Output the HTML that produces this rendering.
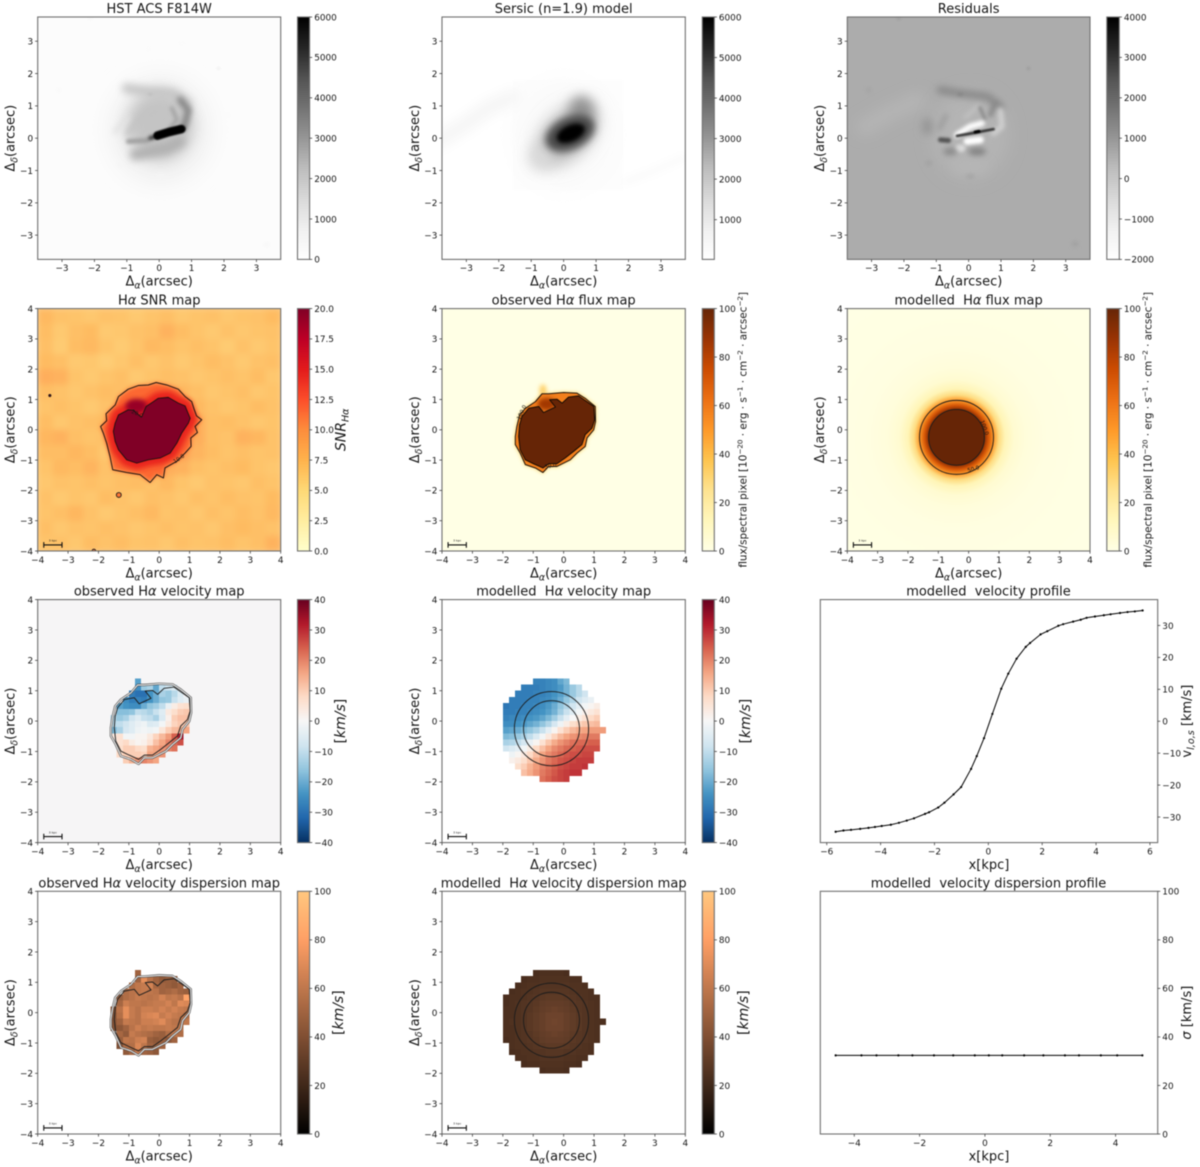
<!DOCTYPE html>
<html lang="en">
<head>
<meta charset="utf-8">
<title>Galaxy kinematics maps</title>
<style>
html,body{margin:0;padding:0;background:#fff;}
#figure{display:block;width:1200px;height:1167px;filter:blur(0.5px);}
text{font-family:"DejaVu Sans","Liberation Sans",sans-serif;fill:#161616;white-space:pre;}
</style>
</head>
<body>
<svg id="figure" xmlns="http://www.w3.org/2000/svg" width="1200" height="1167" viewBox="0 0 1200 1167">
<defs id="defs"></defs>
</svg>
<script>
/* ---------- tick labels ---------- */
const ticksHst = [-3,-2,-1,0,1,2,3];
const ticksMap = [-4,-3,-2,-1,0,1,2,3,4];
const ticksGrey = [0,1000,2000,3000,4000,5000,6000];
const ticksSersic = [1000,2000,3000,4000,5000,6000];
const ticksResidual = [-2000,-1000,0,1000,2000,3000,4000];
const ticksSnr = [0,2.5,5,7.5,10,12.5,15,17.5,20];
const ticksFlux = [0,20,40,60,80,100];
const ticksVelocity = [-40,-30,-20,-10,0,10,20,30,40];
const ticksProfileVX = [-6,-4,-2,0,2,4,6];
const ticksProfileVY = [-30,-20,-10,0,10,20,30];
const ticksProfileSX = [-4,-2,0,2,4];
const ticksProfileSY = [0,20,40,60,80,100];

/* ---------- colormap stops ---------- */
const cmapGreys = ['#ffffff','#f0f0f0','#d9d9d9','#bdbdbd','#969696','#737373','#525252','#252525','#000000'];
const cmapYlOrRd = ['#ffffcc','#ffeda0','#fed976','#feb24c','#fd8d3c','#fc4e2a','#e31a1c','#bd0026','#800026'];
const cmapYlOrBr = ['#ffffe5','#fff7bc','#fee391','#fec44f','#fe9929','#ec7014','#cc4c02','#993404','#662506'];
const cmapRdBu = ['#053061','#2166ac','#4393c3','#92c5de','#d1e5f0','#f7f7f7','#fddbc7','#f4a582','#d6604d','#b2182b','#67001f'];
const cmapCopper = ['#000000','#40281a','#804f33','#bf774c','#ff9f65','#ffc77f'];

/* ---------- HST image features, data coords: x,y,rx,ry,rot,flux,blur ---------- */
const hstBlobs = [
 [0.03,0.26,1.5,1.6,0,800,12],[0.03,0.4,1.02,1.08,0,2050,7],
 [-1.2,-0.82,0.1,0.08,0,500,2],[0.03,-1.18,0.14,0.06,0,500,2],
 [1.83,2.16,0.05,0.05,0,750,1],[-3.1,1.49,0.08,0.08,0,280,1.5],[3.32,-3.29,0.1,0.08,0,340,1.5],
 [-2.13,3.7,0.08,0.05,0,330,1.2],[2.14,0.72,0.07,0.07,0,230,1.5],[0.7,2.93,0.12,0.1,0,220,2],
 [-0.33,2.78,0.1,0.12,0,220,2],[1,2.1,0.07,0.05,0,220,1.5],[-0.28,1.36,0.08,0.04,0,2200,1]
];
const hstStreaks = [
 {pts:[[-1,1.54],[-0.28,1.42],[0.44,1.36],[0.85,1.08]],w:10,flux:2000,blur:4},
 {pts:[[-0.95,0.15],[-0.59,0.62],[-0.07,0.87]],w:6,flux:2100,blur:3.4},
 {pts:[[-1.36,0.2],[-1,0.62]],w:5,flux:1200,blur:2.8},
 {pts:[[0.65,1.18],[0.9,0.87],[0.8,0.46],[0.7,0.31]],w:7,flux:3300,blur:2.6},
 {pts:[[0.39,0.93],[0.55,0.57],[0.34,0.31]],w:4,flux:2700,blur:1.8},
 {pts:[[-0.74,-0.51],[-0.28,-0.41],[0.24,-0.31],[0.65,-0.1]],w:11,flux:2500,blur:4},
 {pts:[[-0.95,-0.1],[-0.38,-0.07]],w:5,flux:2800,blur:1.6},
 {pts:[[-0.28,0],[0.24,0.17],[0.75,0.31]],w:4,flux:5000,blur:1.6},
 {pts:[[-0.05,0.08],[0.3,0.19],[0.68,0.28]],w:8.5,flux:6000,blur:0.8}
];

/* ---------- Sersic model features ---------- */
const sersicPatch = [[-1.56,1.8],[1.83,1.8],[1.83,-1.6],[-1.56,-1.6]];
const sersicStreaks = [
 {pts:[[-3.9,-0.1],[-3,0.45],[-2.3,0.95],[-1.55,1.28]],w:15,flux:520,blur:6},
 {pts:[[1.9,-1.35],[2.7,-1.05],[3.7,-0.6]],w:8,flux:200,blur:4}
];
const sersicBlobs = [
 [0,0.1,1.45,1.6,0,300,14],[0.1,0.1,1.18,0.68,-45,2300,8],[0.55,0.85,0.38,0.45,0,3100,6],
 [-0.7,-0.6,0.38,0.38,0,1500,7],[0.2,0.15,0.8,0.5,-25,4700,4],[0.22,0.15,0.46,0.25,-25,6000,2]
];

/* ---------- Residual image features ---------- */
const residualBase = 580;
const residualHalos = [[0.05,0.1,1.2,1.35,0,430,8],[0.05,-0.9,0.55,0.2,0,380,5]];
const residualBlobs = [
 [-1.28,0.36,0.17,0.27,0,1000,4],[-0.26,-0.31,0.17,0.12,0,-600,1.6],
 [0.26,-0.41,0.28,0.12,0,1450,3],[-0.57,-0.41,0.22,0.12,0,1250,3],
 [1.85,2.16,0.05,0.05,0,950,1.2],[-0.26,1.36,0.1,0.05,0,1500,1.4],[-3.09,1.49,0.08,0.08,0,760,2],
 [3.29,-3.27,0.1,0.08,0,820,2],[-2.16,3.7,0.08,0.05,0,820,1.4],[0.05,-1.18,0.14,0.06,0,800,2],
 [-1.23,-0.77,0.1,0.08,0,800,2]
];
const residualArms = [{pts:[[-3.2,0.35],[-2.4,0.8],[-1.6,1.15]],w:18,flux:420,blur:6}];
const residualStreaks = [
 {pts:[[-0.87,1.49],[-0.26,1.39],[0.57,1.29],[0.98,0.98]],w:8,flux:1250,blur:3.4},
 {pts:[[-0.9,0.3],[-0.7,0.7]],w:4,flux:950,blur:3},
 {pts:[[-0.1,0.65],[0.3,1.0]],w:4,flux:180,blur:2},
 {pts:[[0.82,1.08],[0.67,0.72]],w:5,flux:1250,blur:2.4},
 {pts:[[0.35,0.95],[0.5,0.6]],w:3,flux:1300,blur:1.6},
 {pts:[[0.98,0.87],[1.03,0.36],[0.77,0.15]],w:5,flux:-300,blur:2},
 {pts:[[-0.36,0.1],[0.05,0.36],[0.41,0.46]],w:6,flux:-1900,blur:1.8},
 {pts:[[-0.05,-0.1],[0.36,-0.05]],w:7,flux:-2000,blur:1.5},
 {pts:[[-0.36,0.07],[0.2,0.17],[0.77,0.28]],w:2.6,flux:3000,blur:0.9},
 {pts:[[-0.87,-0.05],[-0.62,-0.07]],w:5,flux:2500,blur:1.2},
 {pts:[[0.2,0.19],[0.32,0.21]],w:3,flux:4000,blur:0.6}
];

/* ---------- SNR background (top row first, coarse 0.5 arcsec cells) ---------- */
const snrBackground = [
 [7.7,6.9,6.7,6.5,6.9,6.7,6.3,6.7,7.1,6.5,6.7,7.0,6.5,6.7,6.9,7.5],
 [7.3,6.3,7.1,7.5,6.3,6.5,6.9,7.1,8.3,7.3,6.7,6.3,6.9,6.5,6.7,6.9],
 [7.1,6.1,7.3,7.7,6.7,6.1,6.7,7.7,7.3,6.7,7.1,6.7,6.1,6.9,6.3,6.7],
 [7.5,7.1,6.3,6.5,5.9,6.5,7.1,6.5,6.9,6.3,6.7,7.3,6.9,6.3,6.9,7.1],
 [8.7,8.3,6.7,6.3,6.7,7.1,6.3,6.7,7.1,6.9,6.5,6.7,7.1,6.7,7.3,6.5],
 [7.3,6.9,6.5,6.9,7.3,7.1,7.7,8.2,8.2,7.7,7.1,6.5,6.7,7.1,6.5,6.7],
 [6.7,7.1,6.7,6.3,6.9,7.7,9.7,9.7,9.7,9.7,7.7,6.9,6.5,6.7,7.3,6.9],
 [7.3,6.5,6.9,7.1,7.5,8.2,9.7,9.7,9.7,9.7,8.7,7.1,7.3,6.9,6.5,6.7],
 [7.9,8.3,7.1,6.7,7.1,8.2,9.7,9.7,9.7,9.7,8.7,7.1,6.9,8.3,7.9,6.9],
 [7.3,7.3,7.9,7.3,6.5,7.7,9.7,9.7,9.7,9.7,8.2,7.3,6.7,7.1,6.7,6.9],
 [6.7,7.7,7.3,8.1,6.9,7.3,8.3,8.7,8.7,8.3,7.1,6.7,7.1,7.5,6.7,6.5],
 [6.5,6.9,6.7,7.1,6.7,7.1,7.3,6.9,7.7,6.7,6.3,6.9,6.7,6.5,7.1,6.7],
 [6.9,6.3,6.7,6.5,7.3,6.9,6.5,7.1,6.9,6.5,7.1,6.7,7.3,6.9,6.7,7.5],
 [6.7,7.1,7.9,6.9,6.3,6.7,7.1,7.7,6.7,6.9,6.5,7.1,6.7,7.3,6.9,7.7],
 [7.1,6.5,6.9,6.7,7.1,6.9,6.5,6.7,7.1,6.7,6.9,6.5,7.1,7.5,7.1,6.9],
 [6.7,6.9,6.5,7.3,6.9,7.3,6.7,6.9,6.5,7.1,6.7,6.9,7.3,6.7,7.1,8.3]
];
const snrContour10 = [[-1.93,0.11],[-1.73,0.30],[-1.75,0.53],[-1.45,0.82],[-1.34,1.10],[-1.02,1.34],[-0.69,1.46],[-0.36,1.48],[-0.10,1.56],[0.25,1.48],[0.63,1.34],[0.85,1.10],[1.07,0.93],[1.15,0.68],[1.23,0.46],[1.40,0.33],[1.18,0.11],[1.26,-0.09],[1.04,-0.27],[1.05,-0.55],[0.85,-0.77],[0.58,-1.04],[0.19,-1.26],[0.14,-1.59],[-0.08,-1.48],[-0.30,-1.74],[-0.63,-1.48],[-1.07,-1.41],[-1.53,-1.32],[-1.62,-0.88],[-1.73,-0.44],[-1.84,-0.11]];
const snrContour20 = [[-1.51,-0.05],[-1.45,0.22],[-1.34,0.49],[-1.02,0.66],[-0.85,0.64],[-0.58,0.42],[-0.43,0.77],[-0.19,0.93],[-0.03,1.04],[0.30,1.07],[0.63,0.88],[0.85,0.79],[1.02,0.38],[0.96,0.22],[0.74,-0.11],[0.58,-0.44],[0.36,-0.77],[0.03,-0.93],[-0.36,-0.99],[-0.74,-1.10],[-1.07,-0.99],[-1.34,-0.66],[-1.45,-0.38]];
const snrSpots = [[-1.33,-2.15,0.08,11],[-3.6,1.13,0.035,20],[-2.15,-4,0.06,11]];

/* ---------- observed flux contours, shared by observed maps ---------- */
const obsContourOuter = [[-1.59,-0.22],[-1.54,0.11],[-1.45,0.49],[-1.26,0.71],[-0.93,0.93],[-0.71,1.19],[-0.49,1.19],[0,1.23],[0.44,1.21],[0.71,1.04],[1.04,0.77],[1.05,0.27],[0.99,0],[0.77,-0.27],[0.71,-0.55],[0.44,-0.77],[0.22,-0.99],[-0.22,-1.21],[-0.49,-1.21],[-0.68,-1.41],[-0.93,-1.26],[-1.26,-1.15],[-1.43,-0.77],[-1.59,-0.49]];
const obsContourInner = [[-1.48,-0.22],[-1.45,0.16],[-1.37,0.44],[-1.15,0.71],[-0.82,0.77],[-0.66,0.57],[-0.27,0.75],[-0.46,0.99],[-0.22,1.01],[-0.05,0.88],[0.16,1.08],[0.49,1.12],[0.99,0.77],[1.02,0.33],[0.93,0.05],[0.71,-0.16],[0.60,-0.49],[0.33,-0.71],[0.05,-0.93],[-0.22,-1.12],[-0.49,-1.12],[-0.68,-1.26],[-0.99,-1.12],[-1.26,-0.99],[-1.43,-0.66]];

/* ---------- modelled flux radial profile ---------- */
const modelCentre = [-0.4,-0.25];
const modelContourRadii = [0.92,1.22];
const modelFluxRadius = [0,0.92,0.93,1.05,1.22,1.4,1.6,1.9,2.3,3,4,6.5];
const modelFluxValue = [100,100,90,72,50,28,14,6,3,1.2,0.5,0];

/* ---------- 0.2 arcsec grid maps: rows from y=+1.3 down to y=-1.9, first column x=-1.9 ---------- */
const _ = null;
const gridXStart = -1.9;
const gridYStart = 1.3;
const gridStep = 0.2;
const observedVelocity = [
 [_,_,_,_,_,_,-22],
 [_,_,_,_,_,_,-25,-15,-13,-21,-10,-8,-6],
 [_,_,_,_,_,-28,-30,-30,-24,-20,-13,-15,-11,-6],
 [_,_,_,_,-25,-28,-27,-28,-24,-20,-16,-15,-9,-5,-3],
 [_,_,_,-22,-24,-25,-25,-20,-16,-14,-10,-3,3,6,7],
 [_,_,_,-17,-17,-16,-10,-11,-13,-9,-5,4,7,10,11],
 [_,_,-12,-15,-13,-8,-5,-9,-10,-13,-6,2,10,12,12],
 [_,_,-11,-10,-8,-5,-3,-2,-6,-5,-1,4,9,11,11],
 [_,_,-18,-13,-7,-5,-2,-1,-2,-1,5,10,13,14,16],
 [_,_,4,6,-1,-1,1,1,4,9,13,17,24,33],
 [_,_,_,6,8,3,1,2,6,12,16,20,23,26],
 [_,_,_,7,10,10,8,7,14,16,18,20,22],
 [_,_,_,8,10,10,10,9,16,16,18],
 [_,_,_,_,10,14,18,20,18,16]
];
const observedDispersion = [
 [_,_,_,_,_,_,50],
 [_,_,_,_,_,_,50,72,58,50,45,48,46],
 [_,_,_,_,_,55,60,62,66,52,50,48,45,50],
 [_,_,_,_,55,58,60,62,60,58,50,52,55,50,48],
 [_,_,_,48,55,58,62,60,58,60,66,60,62,58,82],
 [_,_,_,52,64,60,60,58,60,62,62,66,60,70,68],
 [_,_,45,58,72,62,58,64,64,62,66,62,66,62,60],
 [_,_,42,56,72,62,58,66,68,70,62,66,62,60,55],
 [_,_,42,50,62,60,58,64,64,66,70,62,58,58,60],
 [_,_,42,44,50,58,64,60,62,60,60,62,60,60],
 [_,_,_,52,46,62,58,56,54,50,48,56,60,55],
 [_,_,_,48,60,58,64,66,48,45,48,44,50],
 [_,_,_,40,55,56,68,60,50,48,50],
 [_,_,_,_,45,52,62,50,48,44]
];
const modelVelocity = [
 [_,_,_,_,_,-27,-27,-26,-25,-21,-18],
 [_,_,_,-28,-28,-28,-27,-26,-25,-23,-19,-15,-11],
 [_,_,-28,-28,-28,-27,-27,-26,-24,-22,-19,-15,-11,-8],
 [_,-28,-28,-28,-27,-27,-26,-25,-23,-20,-16,-12,-8,-5,-3],
 [-29,-28,-28,-27,-27,-26,-25,-23,-20,-16,-12,-8,-4,-1,1,3],
 [-28,-28,-27,-27,-26,-25,-24,-22,-19,-14,-9,-5,-1,2,4,6],
 [-27,-26,-26,-25,-24,-23,-21,-18,-14,-9,-4,0,3,6,8,10],
 [-25,-25,-24,-23,-21,-19,-16,-12,-7,-2,3,7,9,11,12,13],
 [-22,-21,-20,-18,-16,-13,-9,-4,1,6,10,13,15,16,17,17,17],
 [-18,-17,-15,-13,-10,-6,-1,4,9,13,16,18,19,20,21,21],
 [-13,-12,-10,-7,-3,1,6,11,15,18,20,22,23,23,24,24],
 [-8,-6,-4,-1,3,8,12,16,19,21,23,24,25,26,26,26],
 [_,-2,1,4,8,12,16,19,21,23,25,26,26,27,27],
 [_,2,4,7,11,15,18,21,23,25,26,27,28,28,28],
 [_,_,7,10,14,17,20,22,24,26,27,28,28,29],
 [_,_,_,12,15,18,21,23,25,27,28,29,29],
 [_,_,_,_,_,_,22,24,26,27,28]
];
const modelDispersion = [
 [_,_,_,_,_,23,24,24,24,24,23],
 [_,_,_,23,24,24,25,25,25,25,25,24,24],
 [_,_,23,24,25,25,26,26,26,26,26,25,25,24],
 [_,23,24,25,25,26,27,27,27,27,27,26,25,25,24],
 [23,24,24,25,26,27,28,29,29,29,28,27,26,25,24,24],
 [23,24,25,26,27,28,30,31,31,31,30,28,27,26,25,24],
 [24,24,25,26,27,29,31,32,33,32,31,29,27,26,25,24],
 [24,24,25,26,28,30,32,34,34,34,32,30,28,26,25,24],
 [24,25,25,26,28,30,32,34,35,34,32,30,28,26,25,24,24],
 [24,24,25,26,28,30,32,34,34,34,32,30,28,26,25,24],
 [24,24,25,26,27,29,31,32,33,32,31,29,27,26,25,24],
 [23,24,25,26,27,28,30,31,31,31,30,28,27,26,25,24],
 [_,24,25,25,26,27,28,29,29,29,28,27,26,25,24],
 [_,23,24,25,25,26,26,27,27,27,26,26,25,25,24],
 [_,_,24,24,25,25,26,26,26,26,25,25,24,24],
 [_,_,_,23,24,24,25,25,25,25,24,24,23],
 [_,_,_,_,_,_,23,24,24,24,23]
];

/* ---------- rotation profile series ---------- */
const profileVX = [-5.67,-5.38,-5.10,-4.76,-4.45,-4.21,-3.96,-3.62,-3.32,-3.03,-2.76,-2.35,-2.20,-1.86,-1.63,-1.29,-1.01,-0.64,-0.43,-0.16,0.15,0.48,0.74,1.05,1.39,1.55,1.94,2.19,2.60,2.78,3.15,3.43,3.65,3.96,4.29,4.54,4.89,5.17,5.44,5.73];
const profileVY = [-34.6,-34.2,-34.0,-33.7,-33.4,-33.1,-32.8,-32.4,-31.8,-31.1,-30.4,-29.0,-28.5,-27.0,-25.5,-22.9,-20.6,-14.9,-10.9,-5.3,2.3,10.2,14.9,19.6,23.3,24.5,27.2,28.2,29.9,30.4,31.2,31.8,32.4,32.8,33.2,33.5,33.9,34.2,34.4,34.7];
const profileSX = [-4.57,-3.78,-3.32,-2.65,-2.22,-1.56,-0.97,-0.31,0.12,0.53,1.2,1.79,2.45,2.88,3.55,4.05,4.82];
const profileSY = [32.4,32.4,32.4,32.4,32.4,32.4,32.4,32.4,32.4,32.4,32.4,32.4,32.4,32.4,32.4,32.4,32.4];

/* ---------- helpers ---------- */
const SVGNS = 'http://www.w3.org/2000/svg';
const root = document.getElementById('figure');
const defs = document.getElementById('defs');
function node(parent, tag, attrs, name){
  const e = document.createElementNS(SVGNS, tag);
  for (const k in attrs) e.setAttribute(k, attrs[k]);
  
  
  parent.appendChild(e);
  return e;
}
function label(parent, x, y, html, size, anchor, rot, name){
  const a = {x:x, y:y, 'font-size':size, 'text-anchor':anchor};
  if (rot) a.transform = 'rotate(' + rot + ' ' + x + ' ' + y + ')';
  const e = node(parent, 'text', a, name);
  e.innerHTML = html;
  return e;
}
function hexToRgb(h){ return [1,3,5].map(i => parseInt(h.substr(i,2),16)); }
function colormap(stops){
  const rgb = stops.map(hexToRgb);
  return function(t){
    t = Math.max(0, Math.min(1, t));
    const p = t * (rgb.length - 1), i = Math.min(rgb.length - 2, Math.floor(p)), f = p - i;
    const c = rgb[i].map((v, k) => Math.round(v + (rgb[i+1][k] - v) * f));
    return 'rgb(' + c.join(',') + ')';
  };
}
function norm(cm, lo, hi){ const f = colormap(cm); return v => f((v - lo) / (hi - lo)); }
const blurCache = {};
function blurId(sd){
  if (blurCache[sd]) return blurCache[sd];
  const id = 'blur' + String(sd).replace('.', '_');
  const f = node(defs, 'filter', {id:id, filterUnits:'userSpaceOnUse', x:0, y:0, width:1200, height:1167}, 'blur-filter');
  node(f, 'feGaussianBlur', {stdDeviation:sd}, 'blur-primitive');
  blurCache[sd] = id;
  return id;
}
let uid = 0;
const fmtInt = v => String(v).replace('-', '\u2212');
const fmtOne = v => v.toFixed(1);
const SPINE = '#707070';
const TICK = 8.9;
const AXIS_FONT = 13;
const SUB_FONT = 9.4;
const arcX = 'Δ<tspan font-style="italic" font-size="' + SUB_FONT + '" dy="3">α</tspan><tspan dy="-3">(arcsec)</tspan>';
const arcY = 'Δ<tspan font-style="italic" font-size="' + SUB_FONT + '" dy="3">δ</tspan><tspan dy="-3">(arcsec)</tspan>';
const ha = 'H<tspan font-style="italic">α</tspan>';

function makeAxes(o){
  const id = 'clip' + (++uid);
  const cp = node(defs, 'clipPath', {id:id}, 'axes-clip');
  node(cp, 'rect', {x:o.left, y:o.top, width:o.right-o.left, height:o.bottom-o.top}, 'axes-clip-rect');
  const X = v => o.left + (v - o.xlim[0]) / (o.xlim[1] - o.xlim[0]) * (o.right - o.left);
  const Y = v => o.bottom - (v - o.ylim[0]) / (o.ylim[1] - o.ylim[0]) * (o.bottom - o.top);
  const wrap = node(root, 'g', {}, o.name + '-panel');
  const g = node(wrap, 'g', {'clip-path':'url(#' + id + ')'}, o.name + '-image');
  node(wrap, 'rect', {x:o.left, y:o.top, width:o.right-o.left, height:o.bottom-o.top, fill:'none', stroke:SPINE, 'stroke-width':1.1}, o.name + '-frame');
  o.xticks.forEach(v => {
    node(wrap, 'line', {x1:X(v), x2:X(v), y1:o.bottom, y2:o.bottom+2.6, stroke:'#444', 'stroke-width':0.8}, 'x-tick');
    label(wrap, X(v), o.bottom+11.8, fmtInt(v), TICK, 'middle', 0, 'x-tick-label');
  });
  o.yticks.forEach(v => {
    if (o.right_side) {
      node(wrap, 'line', {x1:o.right, x2:o.right+2.6, y1:Y(v), y2:Y(v), stroke:'#444', 'stroke-width':0.8}, 'y-tick');
      label(wrap, o.right+4.6, Y(v)+3.3, fmtInt(v), TICK, 'start', 0, 'y-tick-label');
    } else {
      node(wrap, 'line', {x1:o.left-2.6, x2:o.left, y1:Y(v), y2:Y(v), stroke:'#444', 'stroke-width':0.8}, 'y-tick');
      label(wrap, o.left-4.6, Y(v)+3.3, fmtInt(v), TICK, 'end', 0, 'y-tick-label');
    }
  });
  const cx = (o.left + o.right) / 2, cy = (o.top + o.bottom) / 2;
  label(wrap, o.titleX || cx, o.top-4, o.title, AXIS_FONT, 'middle', 0, o.name + '-title');
  label(wrap, cx, o.bottom+26.3, o.xlabel, AXIS_FONT, 'middle', 0, 'x-axis-title');
  if (o.right_side) label(wrap, 1191, cy, o.ylabel, AXIS_FONT, 'middle', -90, 'y-axis-title');
  else label(wrap, o.left-23.2, cy, o.ylabel, AXIS_FONT, 'middle', -90, 'y-axis-title');
  return {g:g, X:X, Y:Y, k:(o.right-o.left)/(o.xlim[1]-o.xlim[0]), o:o};
}
function colorbar(o){
  const id = 'grad' + (++uid);
  const grad = node(defs, 'linearGradient', {id:id, x1:0, y1:1, x2:0, y2:0}, 'colorbar-gradient');
  const f = colormap(o.cm);
  for (let i = 0; i <= 48; i++) {
    node(grad, 'stop', {offset:i/48, 'stop-color':f(i/48)}, 'gradient-stop');
  }
  const g = node(root, 'g', {}, o.name);
  node(g, 'rect', {x:o.left, y:o.top, width:o.right-o.left, height:o.bottom-o.top, fill:'url(#' + id + ')', stroke:SPINE, 'stroke-width':1.1}, 'colorbar-ramp');
  const Y = v => o.bottom - (v - o.lo) / (o.hi - o.lo) * (o.bottom - o.top);
  o.ticks.forEach(v => {
    node(g, 'line', {x1:o.right, x2:o.right+2.6, y1:Y(v), y2:Y(v), stroke:'#444', 'stroke-width':0.8}, 'colorbar-tick');
    label(g, o.right+4.6, Y(v)+3.3, o.fmt(v), TICK, 'start', 0, 'colorbar-tick-label');
  });
  if (o.label) label(g, o.labelX, (o.top+o.bottom)/2, o.label, o.labelSize, 'middle', -90, 'colorbar-title');
}
function blob(ax, b, color, name){
  const w = node(ax.g, 'g', {filter:'url(#' + blurId(b[6]) + ')'}, name);
  node(w, 'ellipse', {cx:ax.X(b[0]), cy:ax.Y(b[1]), rx:b[2]*ax.k, ry:b[3]*ax.k, fill:color(b[5]),
    transform:'rotate(' + b[4] + ' ' + ax.X(b[0]) + ' ' + ax.Y(b[1]) + ')'}, name + '-shape');
}
function pathOf(ax, pts, close){
  return pts.map((p,i) => (i ? 'L' : 'M') + ax.X(p[0]).toFixed(2) + ' ' + ax.Y(p[1]).toFixed(2)).join('') + (close ? 'Z' : '');
}
function streak(ax, s, color, name){
  const a = {d:pathOf(ax, s.pts), fill:'none', stroke:color(s.flux), 'stroke-width':s.w, 'stroke-linecap':'round', 'stroke-linejoin':'round'};
  if (s.blur) a.filter = 'url(#' + blurId(s.blur) + ')';
  node(ax.g, 'path', a, name);
}
function background(ax, color, name){
  const o = ax.o;
  return node(ax.g, 'rect', {x:o.left, y:o.top, width:o.right-o.left, height:o.bottom-o.top, fill:color}, name);
}
function gridMap(ax, rows, color, name){
  rows.forEach((row, r) => {
    row.forEach((v, c) => {
      if (v === null) return;
      const x = gridXStart + c * gridStep, y = gridYStart - r * gridStep;
      const x0 = ax.X(x - gridStep/2), x1 = ax.X(x + gridStep/2), y0 = ax.Y(y + gridStep/2), y1 = ax.Y(y - gridStep/2);
      node(ax.g, 'rect', {x:x0, y:y0, width:x1-x0, height:y1-y0, fill:color(v), 'shape-rendering':'crispEdges'}, name);
    });
  });
}
function contour(ax, pts, stroke, w, name){
  node(ax.g, 'path', {d:pathOf(ax, pts, true), fill:'none', stroke:stroke, 'stroke-width':w, 'stroke-linejoin':'round'}, name);
}
function modelCircles(ax){
  modelContourRadii.forEach(r => {
    node(ax.g, 'circle', {cx:ax.X(modelCentre[0]), cy:ax.Y(modelCentre[1]), r:r*ax.k, fill:'none', stroke:'#1c1c1c', 'stroke-width':0.9}, 'model-contour');
  });
}
function contourText(ax, x, y, txt, rot){
  label(ax.g, ax.X(x), ax.Y(y), txt, 5.4, 'middle', rot, 'contour-label');
}
function scaleBar(ax){
  const g = node(ax.g, 'g', {}, 'scale-bar');
  const x0 = ax.X(-3.8), x1 = ax.X(-3.2), y = ax.Y(-3.8);
  node(g, 'line', {x1:x0, x2:x1, y1:y, y2:y, stroke:'#111', 'stroke-width':1.1}, 'scale-bar-line');
  node(g, 'line', {x1:x0, x2:x0, y1:y-2.8, y2:y+2.8, stroke:'#111', 'stroke-width':1.1}, 'scale-bar-cap');
  node(g, 'line', {x1:x1, x2:x1, y1:y-2.8, y2:y+2.8, stroke:'#111', 'stroke-width':1.1}, 'scale-bar-cap');
  label(g, (x0+x1)/2, y-3.2, '3 kpc', 3, 'middle', 0, 'scale-bar-label');
}
function obsContours(ax){
  contour(ax, obsContourOuter, '#505050', 2.3, 'outer-contour');
  contour(ax, obsContourOuter, '#f4f4f4', 1, 'outer-contour-halo');
  contour(ax, obsContourInner, '#1e1e1e', 0.95, 'inner-contour');
}

/* ---------- layout ---------- */
const colL = [37.7,442,847.3], colR = [280.7,685.3,1090];
const rowT = [17,308.6,599.6,891.3], rowB = [259.4,551,842.6,1134];
const barL = [297.5,702.3,1106.8], barR = [309.6,714.3,1119.3];
const limImg = [-3.75,3.75], limMap = [-4,4];
function mapAxes(c, r, lim, ticks, title, name){
  return makeAxes({left:colL[c], right:colR[c], top:rowT[r], bottom:rowB[r], xlim:lim, ylim:lim, xticks:ticks, yticks:ticks, title:title, xlabel:arcX, ylabel:arcY, name:name});
}

/* --- HST --- */
{
  const ax = mapAxes(0, 0, limImg, ticksHst, 'HST ACS F814W', 'hst-f814w');
  const col = norm(cmapGreys, 0, 6000);
  background(ax, col(130), 'hst-background');
  hstBlobs.slice(0,2).forEach(b => blob(ax, b, col, 'hst-halo'));
  hstStreaks.forEach(s => streak(ax, s, col, 'hst-feature'));
  hstBlobs.slice(2).forEach(b => blob(ax, b, col, 'hst-knot'));
  colorbar({left:barL[0], right:barR[0], top:rowT[0], bottom:rowB[0], cm:cmapGreys, lo:0, hi:6000, ticks:ticksGrey, fmt:fmtInt, name:'hst-colorbar'});
}
/* --- Sersic --- */
{
  const ax = mapAxes(1, 0, limImg, ticksHst, 'Sersic (n=1.9) model', 'sersic-model');
  const col = norm(cmapGreys, 20, 6000);
  background(ax, '#ffffff', 'sersic-background');
  node(ax.g, 'path', {d:pathOf(ax, sersicPatch, true), fill:col(110)}, 'sersic-patch');
  sersicStreaks.forEach(s => streak(ax, s, col, 'sersic-arm'));
  sersicBlobs.forEach(b => blob(ax, b, col, 'sersic-component'));
  colorbar({left:barL[1], right:barR[1], top:rowT[0], bottom:rowB[0], cm:cmapGreys, lo:20, hi:6000, ticks:ticksSersic, fmt:fmtInt, name:'sersic-colorbar'});
}
/* --- Residuals --- */
{
  const ax = mapAxes(2, 0, limImg, ticksHst, 'Residuals', 'residuals');
  const col = norm(cmapGreys, -2000, 4000);
  background(ax, col(residualBase), 'residual-background');
  residualArms.forEach(s => streak(ax, s, col, 'residual-arm'));
  residualHalos.forEach(b => blob(ax, b, col, 'residual-halo'));
  residualBlobs.forEach(b => blob(ax, b, col, 'residual-feature'));
  residualStreaks.forEach(s => streak(ax, s, col, 'residual-feature'));
  colorbar({left:barL[2], right:barR[2], top:rowT[0], bottom:rowB[0], cm:cmapGreys, lo:-2000, hi:4000, ticks:ticksResidual, fmt:fmtInt, name:'residual-colorbar'});
}
/* --- SNR --- */
{
  const ax = mapAxes(0, 1, limMap, ticksMap, ha + ' SNR map', 'snr-map');
  const col = norm(cmapYlOrRd, 0, 20);
  background(ax, '#fdd49a', 'snr-background');
  const cells = node(ax.g, 'g', {filter:'url(#' + blurId(2.8) + ')', opacity:0.72}, 'snr-noise');
  snrBackground.forEach((row, r) => row.forEach((v, c) => {
    const x = -4 + c * 0.5, y = 4 - r * 0.5;
    node(cells, 'rect', {x:ax.X(x), y:ax.Y(y), width:0.5*ax.k+0.5, height:0.5*ax.k+0.5, fill:col(v)}, 'snr-cell');
  }));
  const glow = node(ax.g, 'g', {filter:'url(#' + blurId(2.2) + ')'}, 'snr-glow');
  node(glow, 'path', {d:pathOf(ax, snrContour10, true), fill:col(11.5)}, 'snr-glow-shape');
  const mid = node(ax.g, 'g', {filter:'url(#' + blurId(3) + ')'}, 'snr-mid');
  node(mid, 'path', {d:pathOf(ax, snrContour20, true), fill:col(16), stroke:col(14.5), 'stroke-width':13, 'stroke-linejoin':'round'}, 'snr-mid-shape');
  blob(ax, [-0.75,0.78,0.36,0.24,0,19,2.4], col, 'snr-knot');
  snrSpots.forEach(s => {
    node(ax.g, 'circle', {cx:ax.X(s[0]), cy:ax.Y(s[1]), r:s[2]*ax.k, fill:col(s[3]), stroke:'#161616', 'stroke-width':0.9}, 'snr-spot');
  });
  node(ax.g, 'path', {d:pathOf(ax, snrContour20, true), fill:col(20), stroke:'#1c1010', 'stroke-width':0.9, 'stroke-linejoin':'round'}, 'snr-core');
  contour(ax, snrContour10, '#1c1410', 1, 'snr-contour-10');
  contourText(ax, -0.75, 0.48, '20.0', 25);
  contourText(ax, 0.68, -1.0, '10.0', -35);
  scaleBar(ax);
  colorbar({left:barL[0], right:barR[0], top:rowT[1], bottom:rowB[1], cm:cmapYlOrRd, lo:0, hi:20, ticks:ticksSnr, fmt:fmtOne, name:'snr-colorbar', labelX:345.5, labelSize:14,
    label:'<tspan font-style="italic">SNR</tspan><tspan font-style="italic" font-size="9.6" dy="3">Hα</tspan>'});
}
const fluxLabel = 'flux/spectral pixel [10<tspan font-size="7.2" dy="-4">−20</tspan><tspan dy="4"> · erg · s</tspan><tspan font-size="7.2" dy="-4">−1</tspan><tspan dy="4"> · cm</tspan><tspan font-size="7.2" dy="-4">−2</tspan><tspan dy="4"> · arcsec</tspan><tspan font-size="7.2" dy="-4">−2</tspan><tspan dy="4">]</tspan>';
/* --- Observed flux --- */
{
  const ax = mapAxes(1, 1, limMap, ticksMap, 'observed ' + ha + ' flux map', 'observed-flux-map');
  const col = norm(cmapYlOrBr, 0, 100);
  background(ax, col(0), 'flux-background');
  const glow = node(ax.g, 'g', {filter:'url(#' + blurId(1.8) + ')'}, 'flux-glow');
  node(glow, 'path', {d:pathOf(ax, obsContourOuter, true), fill:col(28), stroke:col(28), 'stroke-width':2}, 'flux-glow-shape');
  blob(ax, [-0.68,1.3,0.12,0.2,0,32,2], col, 'flux-knot');
  node(ax.g, 'path', {d:pathOf(ax, obsContourOuter, true), fill:col(58)}, 'flux-ring');
  blob(ax, [-0.55,0.85,0.3,0.2,0,85,2], col, 'flux-notch');
  node(ax.g, 'path', {d:pathOf(ax, obsContourInner, true), fill:col(100)}, 'flux-core');
  contour(ax, obsContourOuter, '#1f140c', 1, 'flux-contour-50');
  contour(ax, obsContourInner, '#180c04', 1, 'flux-contour-100');
  contourText(ax, -1.33, 0.55, '100.0', -65);
  contourText(ax, -0.42, -1.25, '50.0', -10);
  scaleBar(ax);
  colorbar({left:barL[1], right:barR[1], top:rowT[1], bottom:rowB[1], cm:cmapYlOrBr, lo:0, hi:100, ticks:ticksFlux, fmt:fmtInt, name:'observed-flux-colorbar', labelX:746.7, labelSize:10.4, label:fluxLabel});
}
/* --- Modelled flux --- */
{
  const ax = mapAxes(2, 1, limMap, ticksMap, 'modelled  ' + ha + ' flux map', 'modelled-flux-map');
  const col = norm(cmapYlOrBr, 0, 100);
  const rMax = modelFluxRadius[modelFluxRadius.length - 1];
  const grad = node(defs, 'radialGradient', {id:'modelFluxGrad', gradientUnits:'userSpaceOnUse', cx:ax.X(modelCentre[0]), cy:ax.Y(modelCentre[1]), r:rMax*ax.k}, 'model-flux-gradient');
  modelFluxRadius.forEach((r, i) => {
    node(grad, 'stop', {offset:r/rMax, 'stop-color':col(modelFluxValue[i])}, 'model-flux-stop');
  });
  background(ax, 'url(#modelFluxGrad)', 'model-flux-field');
  modelCircles(ax);
  contourText(ax, 0.47, 0.05, '100.0', 70);
  contourText(ax, 0.17, -1.35, '50.0', -15);
  scaleBar(ax);
  colorbar({left:barL[2], right:barR[2], top:rowT[1], bottom:rowB[1], cm:cmapYlOrBr, lo:0, hi:100, ticks:ticksFlux, fmt:fmtInt, name:'modelled-flux-colorbar', labelX:1151.7, labelSize:10.4, label:fluxLabel});
}
const kms = '[<tspan font-style="italic">km/s</tspan>]';
/* --- Observed velocity --- */
{
  const ax = mapAxes(0, 2, limMap, ticksMap, 'observed ' + ha + ' velocity map', 'observed-velocity-map');
  const col = norm(cmapRdBu, -40, 40);
  background(ax, '#f6f5f6', 'velocity-background');
  gridMap(ax, observedVelocity, col, 'velocity-cell');
  obsContours(ax);
  scaleBar(ax);
  colorbar({left:barL[0], right:barR[0], top:rowT[2], bottom:rowB[2], cm:cmapRdBu, lo:-40, hi:40, ticks:ticksVelocity, fmt:fmtInt, name:'observed-velocity-colorbar', labelX:345, labelSize:14, label:kms});
}
/* --- Modelled velocity --- */
{
  const ax = mapAxes(1, 2, limMap, ticksMap, 'modelled  ' + ha + ' velocity map', 'modelled-velocity-map');
  const col = norm(cmapRdBu, -40, 40);
  background(ax, '#ffffff', 'model-velocity-background');
  gridMap(ax, modelVelocity, col, 'velocity-cell');
  modelCircles(ax);
  scaleBar(ax);
  colorbar({left:barL[1], right:barR[1], top:rowT[2], bottom:rowB[2], cm:cmapRdBu, lo:-40, hi:40, ticks:ticksVelocity, fmt:fmtInt, name:'modelled-velocity-colorbar', labelX:750, labelSize:14, label:kms});
}
/* --- Profile plots --- */
function profile(r, xs, ys, xlim, ylim, xticks, yticks, title, ylabel, name){
  const ax = makeAxes({left:820.3, right:1157.7, top:rowT[r], bottom:rowB[r], xlim:xlim, ylim:ylim, xticks:xticks, yticks:yticks, title:title, titleX:988.5, xlabel:'x[kpc]', ylabel:ylabel, right_side:true, name:name});
  node(ax.g, 'path', {d:pathOf(ax, xs.map((x,i) => [x, ys[i]])), fill:'none', stroke:'#000', 'stroke-width':1}, name + '-line');
  xs.forEach((x, i) => {
    node(ax.g, 'circle', {cx:ax.X(x), cy:ax.Y(ys[i]), r:1.1, fill:'#000'}, name + '-point');
  });
}
profile(2, profileVX, profileVY, [-6.24,6.29], [-38,38.1], ticksProfileVX, ticksProfileVY, 'modelled  velocity profile',
  'v<tspan font-style="italic" font-size="9.6" dy="3">l,o,s</tspan><tspan dy="-3"> [km/s]</tspan>', 'velocity-profile');
profile(3, profileSX, profileSY, [-5.04,5.29], [0,100], ticksProfileSX, ticksProfileSY, 'modelled  velocity dispersion profile',
  '<tspan font-style="italic">σ</tspan> [km/s]', 'dispersion-profile');
/* --- Observed dispersion --- */
{
  const ax = mapAxes(0, 3, limMap, ticksMap, 'observed ' + ha + ' velocity dispersion map', 'observed-dispersion-map');
  const col = norm(cmapCopper, 0, 100);
  background(ax, '#ffffff', 'dispersion-background');
  gridMap(ax, observedDispersion, col, 'dispersion-cell');
  obsContours(ax);
  scaleBar(ax);
  colorbar({left:barL[0], right:barR[0], top:rowT[3], bottom:rowB[3], cm:cmapCopper, lo:0, hi:100, ticks:ticksFlux, fmt:fmtInt, name:'observed-dispersion-colorbar', labelX:343, labelSize:14, label:kms});
}
/* --- Modelled dispersion --- */
{
  const ax = mapAxes(1, 3, limMap, ticksMap, 'modelled  ' + ha + ' velocity dispersion map', 'modelled-dispersion-map');
  const col = norm(cmapCopper, 0, 100);
  background(ax, '#ffffff', 'model-dispersion-background');
  gridMap(ax, modelDispersion, col, 'dispersion-cell');
  modelCircles(ax);
  scaleBar(ax);
  colorbar({left:barL[1], right:barR[1], top:rowT[3], bottom:rowB[3], cm:cmapCopper, lo:0, hi:100, ticks:ticksFlux, fmt:fmtInt, name:'modelled-dispersion-colorbar', labelX:748, labelSize:14, label:kms});
}
</script>
</body>
</html>
